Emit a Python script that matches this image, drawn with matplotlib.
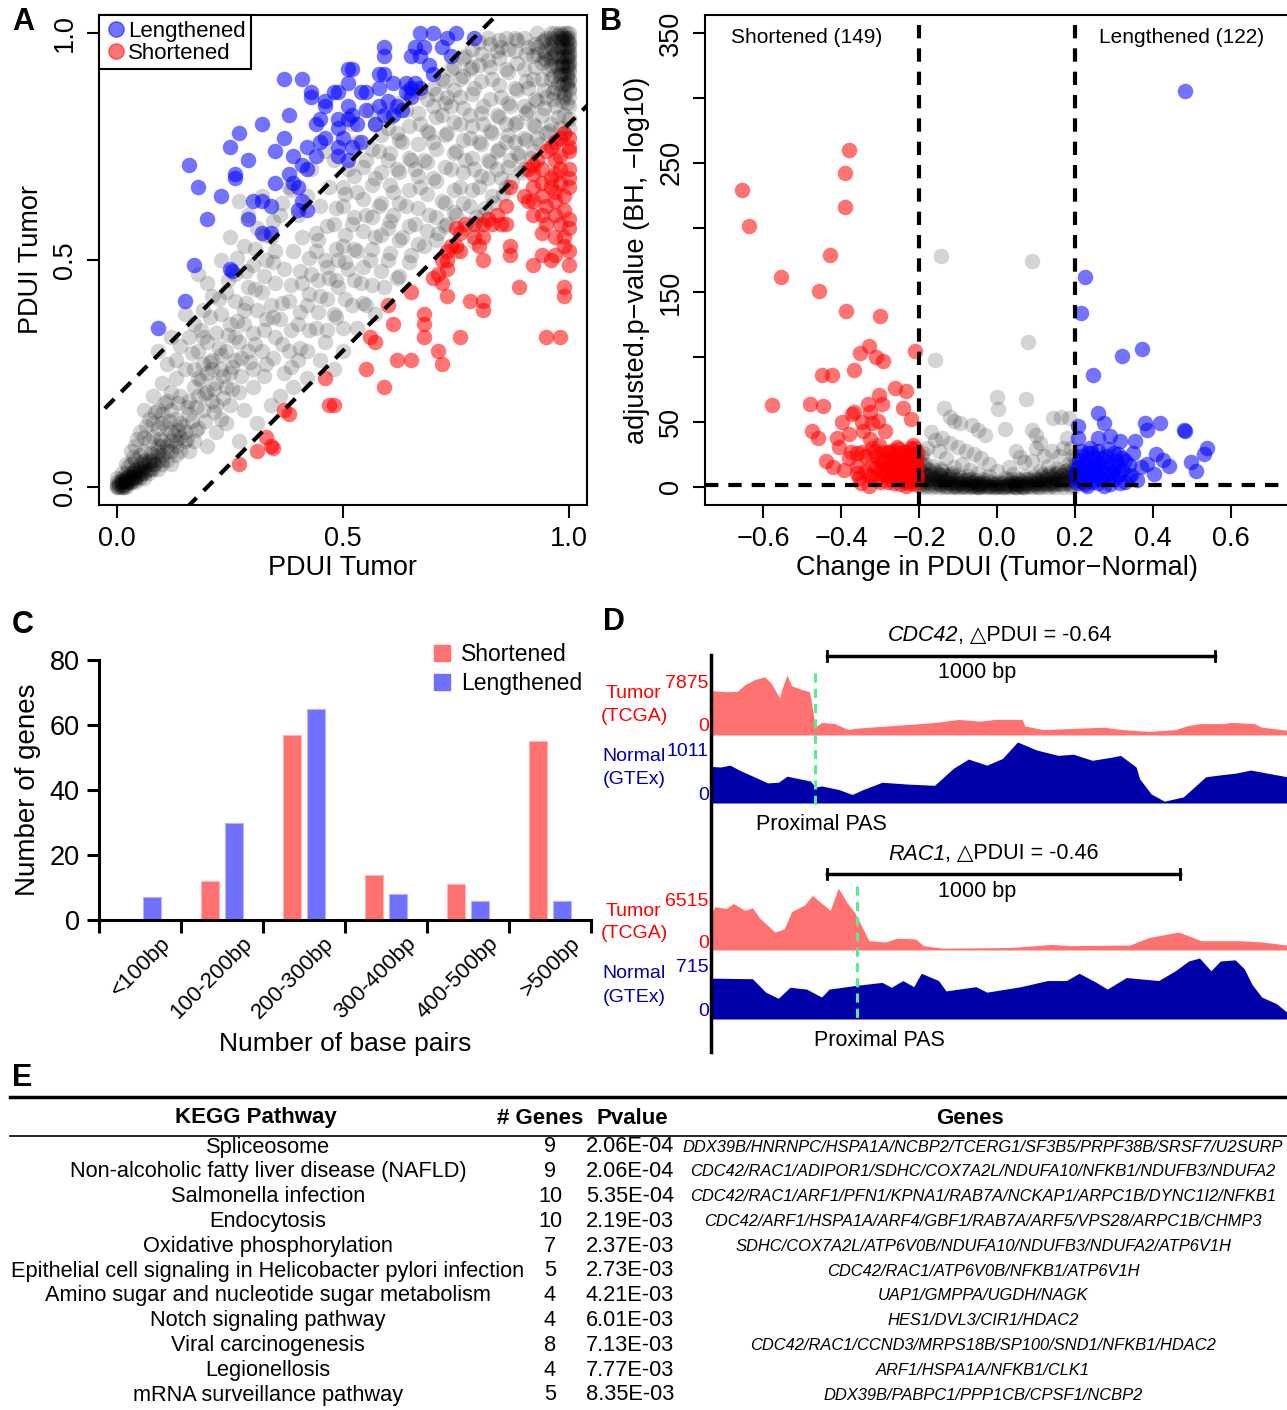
import matplotlib.pyplot as plt
from matplotlib.lines import Line2D
import numpy as np

plt.rcParams['font.family'] = ['Liberation Sans', 'DejaVu Sans']

# ---------------- data ----------------
# panel A: PDUI scatter (x, y)
lengthened_a = [(0.67, 1.00), (0.70, 1.00), (0.75, 1.00), (0.73, 0.99), (0.79, 0.99), (0.59, 0.97),
                (0.66, 0.97), (0.68, 0.97), (0.72, 0.97), (0.74, 0.95), (0.59, 0.95), (0.65, 0.95),
                (0.67, 0.95), (0.69, 0.93), (0.51, 0.92), (0.52, 0.92), (0.70, 0.91), (0.37, 0.90),
                (0.41, 0.90), (0.58, 0.91), (0.59, 0.91), (0.61, 0.89), (0.64, 0.89), (0.66, 0.89),
                (0.67, 0.88), (0.43, 0.87), (0.48, 0.87), (0.51, 0.89), (0.54, 0.87), (0.55, 0.87),
                (0.49, 0.87), (0.43, 0.86), (0.46, 0.85), (0.51, 0.84), (0.58, 0.84), (0.55, 0.83),
                (0.59, 0.82), (0.60, 0.85), (0.62, 0.84), (0.63, 0.83), (0.65, 0.86), (0.52, 0.82),
                (0.46, 0.84), (0.49, 0.81), (0.51, 0.81), (0.45, 0.81), (0.44, 0.80), (0.46, 0.77),
                (0.49, 0.79), (0.53, 0.80), (0.57, 0.80), (0.32, 0.80), (0.38, 0.82), (0.27, 0.78),
                (0.25, 0.75), (0.37, 0.77), (0.42, 0.75), (0.45, 0.76), (0.52, 0.75), (0.54, 0.76),
                (0.35, 0.74), (0.29, 0.72), (0.39, 0.73), (0.41, 0.71), (0.42, 0.70), (0.44, 0.73),
                (0.49, 0.73), (0.51, 0.72), (0.16, 0.71), (0.18, 0.66), (0.23, 0.64), (0.26, 0.68),
                (0.26, 0.69), (0.30, 0.63), (0.32, 0.63), (0.34, 0.62), (0.35, 0.67), (0.39, 0.67),
                (0.38, 0.69), (0.40, 0.66), (0.41, 0.63), (0.42, 0.61), (0.40, 0.61), (0.20, 0.59),
                (0.29, 0.59), (0.32, 0.56), (0.34, 0.56), (0.17, 0.49), (0.25, 0.48), (0.255, 0.475),
                (0.15, 0.41), (0.09, 0.35), (0.49, 0.75), (0.50, 0.77), (0.61, 0.82), (0.58, 0.88),
                (0.65, 0.88), (0.64, 0.87)]

shortened_a = [(0.99, 0.78), (1.00, 0.77), (0.98, 0.77), (1.00, 0.75), (0.97, 0.76), (0.96, 0.75),
               (1.00, 0.74), (0.98, 0.73), (0.95, 0.74), (0.93, 0.72), (0.97, 0.72), (0.92, 0.71),
               (0.91, 0.70), (0.94, 0.70), (0.98, 0.70), (1.00, 0.70), (0.92, 0.69), (0.97, 0.69),
               (0.96, 0.68), (1.00, 0.68), (0.94, 0.67), (0.98, 0.67), (0.92, 0.66), (0.96, 0.66),
               (1.00, 0.66), (0.97, 0.65), (0.94, 0.64), (0.99, 0.64), (0.97, 0.63), (0.92, 0.63),
               (0.87, 0.66), (0.90, 0.64), (0.91, 0.63), (0.95, 0.62), (0.99, 0.61), (0.97, 0.60),
               (0.94, 0.60), (0.92, 0.60), (1.00, 0.59), (0.98, 0.58), (0.95, 0.58), (1.00, 0.57),
               (0.94, 0.56), (0.97, 0.55), (0.99, 0.55), (0.86, 0.62), (0.84, 0.60), (0.82, 0.59),
               (0.83, 0.58), (0.85, 0.58), (0.86, 0.58), (0.81, 0.58), (0.79, 0.58), (0.77, 0.58),
               (0.75, 0.57), (0.76, 0.56), (0.79, 0.55), (0.81, 0.55), (0.99, 0.53), (0.97, 0.51),
               (1.00, 0.52), (0.94, 0.51), (0.96, 0.50), (1.00, 0.49), (0.92, 0.49), (0.87, 0.53),
               (0.87, 0.51), (0.81, 0.50), (0.80, 0.53), (0.76, 0.52), (0.75, 0.53), (0.74, 0.53),
               (0.73, 0.52), (0.73, 0.50), (0.72, 0.50), (0.73, 0.48), (0.71, 0.47), (0.70, 0.46),
               (0.72, 0.45), (0.65, 0.43), (0.73, 0.42), (0.78, 0.41), (0.81, 0.41), (0.81, 0.39),
               (0.89, 0.44), (0.99, 0.44), (0.99, 0.42), (0.68, 0.38), (0.68, 0.36), (0.68, 0.33),
               (0.61, 0.36), (0.60, 0.40), (0.76, 0.33), (0.71, 0.30), (0.72, 0.27), (0.95, 0.33),
               (0.98, 0.33), (0.56, 0.33), (0.57, 0.32), (0.55, 0.26), (0.62, 0.28), (0.65, 0.28),
               (0.59, 0.22), (0.46, 0.24), (0.47, 0.18), (0.48, 0.18), (0.37, 0.17), (0.38, 0.16),
               (0.33, 0.11), (0.34, 0.09), (0.345, 0.085), (0.31, 0.08), (0.27, 0.05)]

unchanged_a = [
    # dense corner near 0
    (0, 0), (0, 0.01), (0.01, 0), (0.01, 0.01), (0.01, 0.02), (0.02, 0.01), (0.02, 0.02), (0.02, 0),
    (0.03, 0.01), (0.03, 0.02), (0.03, 0.03), (0.04, 0.01), (0.04, 0.02), (0.04, 0.03), (0.05, 0.02),
    (0.05, 0.03), (0.05, 0.04), (0.06, 0.02), (0.06, 0.03), (0.06, 0.05), (0.07, 0.03), (0.07, 0.04),
    (0.07, 0.06), (0.08, 0.04), (0.08, 0.05), (0.08, 0.07), (0.09, 0.04), (0.09, 0.06), (0.1, 0.05),
    (0.1, 0.07), (0.11, 0.06), (0.12, 0.05), (0.02, 0.03), (0.03, 0.05), (0.04, 0.06), (0.05, 0.07),
    (0.06, 0.08), (0.07, 0.1), (0.08, 0.11), (0.09, 0.09), (0.1, 0.1), (0.11, 0.09), (0.12, 0.08),
    (0.13, 0.07), (0.14, 0.08), (0.13, 0.1), (0.12, 0.12), (0.11, 0.13), (0.1, 0.14), (0.09, 0.13),
    (0.08, 0.14), (0.15, 0.1), (0.16, 0.08), (0.15, 0.12), (0.14, 0.14), (0.13, 0.15), (0.12, 0.17),
    (0.1, 0.16), (0.06, 0.11), (0.05, 0.12), (0.04, 0.09), (0.01, 0.03), (0.0, 0.02), (0.02, 0.05),
    (0.03, 0.08), (0.17, 0.1), (0.18, 0.13), (0.16, 0.16), (0.07, 0.15), (0.09, 0.17), (0.11, 0.19),
    (0.005, 0.005), (0.015, 0.005), (0.01, 0.015), (0.025, 0.015), (0.035, 0.02), (0.045, 0.025),
    (0.02, 0.01), (0.03, 0.015), (0.0, 0.005), (0.015, 0.0), (0.04, 0.015), (0.055, 0.03),
    (0.065, 0.035), (0.075, 0.04), (0.085, 0.05), (0.03, 0.025), (0.01, 0.005), (0.02, 0.015),
    (0.05, 0.025), (0.06, 0.04), (0.07, 0.05), (0.09, 0.07), (0.11, 0.08), (0.1, 0.09),
    (0.005, 0.0), (0.01, 0.01), (0.02, 0.005), (0.015, 0.015), (0.025, 0.01), (0.03, 0.02),
    (0.04, 0.025), (0.05, 0.035), (0.06, 0.045), (0.035, 0.03), (0.045, 0.04), (0.025, 0.025),
    (0.0, 0.0), (0.01, 0.0), (0.005, 0.01), (0.02, 0.02), (0.03, 0.01), (0.04, 0.035), (0.07, 0.055),
    (0.08, 0.06), (0.09, 0.08), (0.1, 0.06), (0.12, 0.1), (0.13, 0.09), (0.14, 0.11), (0.06, 0.06),
    (0.05, 0.05), (0.04, 0.04),
    # lower band
    (0.19, 0.17), (0.2, 0.21), (0.18, 0.2), (0.21, 0.19), (0.22, 0.23), (0.2, 0.25), (0.23, 0.26),
    (0.24, 0.22), (0.25, 0.25), (0.19, 0.27), (0.17, 0.22), (0.16, 0.19), (0.14, 0.2), (0.13, 0.24),
    (0.15, 0.26), (0.18, 0.3), (0.2, 0.32), (0.21, 0.28), (0.22, 0.34), (0.24, 0.3), (0.26, 0.28),
    (0.27, 0.32), (0.25, 0.36), (0.23, 0.38), (0.28, 0.36), (0.29, 0.3), (0.3, 0.34), (0.31, 0.39),
    (0.26, 0.41), (0.24, 0.43), (0.29, 0.44), (0.32, 0.43), (0.33, 0.37), (0.34, 0.4), (0.35, 0.45),
    (0.12, 0.21), (0.1, 0.23), (0.08, 0.2), (0.06, 0.17), (0.11, 0.27), (0.09, 0.3), (0.14, 0.31),
    (0.16, 0.33), (0.12, 0.33), (0.17, 0.36), (0.19, 0.39), (0.15, 0.38), (0.21, 0.42), (0.2, 0.45),
    (0.18, 0.47), (0.27, 0.21), (0.25, 0.18), (0.23, 0.15), (0.3, 0.26), (0.32, 0.3), (0.22, 0.12),
    (0.28, 0.17), (0.2, 0.09), (0.24, 0.14), (0.3, 0.22), (0.33, 0.27), (0.35, 0.33), (0.36, 0.2),
    (0.31, 0.14), (0.27, 0.1), (0.34, 0.18), (0.37, 0.25), (0.39, 0.22), (0.38, 0.3), (0.4, 0.28),
    (0.36, 0.37), (0.38, 0.41), (0.4, 0.36), (0.41, 0.45), (0.37, 0.48), (0.39, 0.52), (0.33, 0.5),
    (0.3, 0.49), (0.28, 0.53), (0.26, 0.47), (0.23, 0.5), (0.25, 0.55), (0.31, 0.57), (0.34, 0.55),
    (0.36, 0.6), (0.29, 0.6), (0.27, 0.63), (0.32, 0.64), (0.35, 0.52), (0.13, 0.28), (0.22, 0.18),
    (0.17, 0.26), (0.19, 0.33), (0.18, 0.24), (0.21, 0.26), (0.23, 0.29), (0.26, 0.33), (0.28, 0.39),
    (0.125, 0.115), (0.145, 0.135), (0.165, 0.145), (0.175, 0.175), (0.195, 0.205), (0.215, 0.215),
    (0.235, 0.245), (0.255, 0.265), (0.275, 0.285), (0.155, 0.175), (0.135, 0.185), (0.105, 0.185),
    (0.085, 0.165), (0.065, 0.135), (0.045, 0.105), (0.035, 0.065), (0.025, 0.045), (0.055, 0.055),
    (0.075, 0.075), (0.095, 0.105), (0.115, 0.145), (0.135, 0.125), (0.155, 0.105), (0.175, 0.125),
    (0.195, 0.145), (0.215, 0.165), (0.235, 0.195), (0.255, 0.215), (0.275, 0.245), (0.295, 0.275),
    (0.185, 0.235), (0.205, 0.275), (0.225, 0.305), (0.245, 0.335), (0.265, 0.365), (0.285, 0.405),
    (0.305, 0.435), (0.325, 0.465), (0.345, 0.495), (0.165, 0.295), (0.185, 0.345), (0.205, 0.375),
    (0.225, 0.415), (0.245, 0.455), (0.265, 0.505), (0.285, 0.475), (0.305, 0.525), (0.325, 0.555),
    (0.345, 0.585), (0.365, 0.625), (0.385, 0.655), (0.305, 0.315), (0.325, 0.345), (0.345, 0.375),
    (0.365, 0.405), (0.385, 0.445), (0.405, 0.475), (0.425, 0.505), (0.445, 0.545), (0.465, 0.575),
    (0.485, 0.615), (0.505, 0.645), (0.525, 0.685), (0.545, 0.705), (0.565, 0.745), (0.585, 0.775),
    (0.605, 0.815), (0.625, 0.845), (0.645, 0.865), (0.325, 0.245), (0.345, 0.285), (0.365, 0.315),
    (0.385, 0.345), (0.405, 0.385), (0.425, 0.425), (0.445, 0.455), (0.465, 0.485), (0.485, 0.525),
    (0.505, 0.555), (0.525, 0.595), (0.545, 0.635), (0.565, 0.665), (0.585, 0.695), (0.605, 0.735),
    (0.625, 0.765), (0.645, 0.795), (0.665, 0.825), (0.685, 0.855), (0.705, 0.865), (0.725, 0.895),
    (0.745, 0.925), (0.765, 0.945), (0.785, 0.965), (0.385, 0.265), (0.405, 0.305), (0.425, 0.345),
    # middle band
    (0.42, 0.3), (0.44, 0.35), (0.42, 0.4), (0.45, 0.42), (0.43, 0.47), (0.46, 0.5), (0.41, 0.55),
    (0.44, 0.56), (0.47, 0.46), (0.48, 0.38), (0.46, 0.32), (0.5, 0.35), (0.49, 0.44), (0.51, 0.48),
    (0.5, 0.53), (0.48, 0.58), (0.45, 0.62), (0.42, 0.64), (0.4, 0.6), (0.38, 0.66), (0.43, 0.7),
    (0.47, 0.66), (0.5, 0.62), (0.52, 0.58), (0.53, 0.52), (0.54, 0.45), (0.55, 0.4), (0.52, 0.4),
    (0.56, 0.5), (0.57, 0.55), (0.55, 0.6), (0.53, 0.65), (0.51, 0.7), (0.48, 0.72), (0.46, 0.74),
    (0.5, 0.66), (0.58, 0.62), (0.6, 0.57), (0.6, 0.5), (0.62, 0.46), (0.59, 0.44), (0.63, 0.55),
    (0.61, 0.65), (0.57, 0.68), (0.55, 0.72), (0.53, 0.76), (0.58, 0.74), (0.62, 0.7), (0.64, 0.62),
    (0.66, 0.58), (0.65, 0.51), (0.67, 0.66), (0.63, 0.76), (0.6, 0.79), (0.57, 0.8), (0.65, 0.72),
    (0.68, 0.72), (0.7, 0.68), (0.69, 0.6), (0.71, 0.56), (0.68, 0.53), (0.72, 0.63), (0.7, 0.76),
    (0.67, 0.8), (0.64, 0.83), (0.6, 0.72), (0.56, 0.83), (0.52, 0.8), (0.7, 0.84), (0.73, 0.78),
    (0.74, 0.7), (0.76, 0.66), (0.75, 0.6), (0.73, 0.58), (0.77, 0.72), (0.76, 0.8), (0.73, 0.86),
    (0.7, 0.88), (0.67, 0.87), (0.45, 0.28), (0.5, 0.3), (0.42, 0.24), (0.48, 0.26), (0.53, 0.35),
    (0.57, 0.38), (0.44, 0.52), (0.49, 0.5), (0.61, 0.6), (0.66, 0.7), (0.69, 0.78), (0.62, 0.78),
    (0.445, 0.385), (0.465, 0.415), (0.485, 0.455), (0.505, 0.495), (0.525, 0.525), (0.545, 0.565),
    (0.565, 0.595), (0.585, 0.625), (0.605, 0.665), (0.625, 0.695), (0.645, 0.725), (0.665, 0.755),
    (0.685, 0.785), (0.705, 0.815), (0.725, 0.845), (0.745, 0.875), (0.765, 0.905), (0.785, 0.925),
    (0.805, 0.955), (0.825, 0.975), (0.845, 0.985), (0.465, 0.345), (0.485, 0.375), (0.505, 0.415),
    (0.525, 0.455), (0.545, 0.485), (0.565, 0.525), (0.585, 0.555), (0.605, 0.585), (0.625, 0.625),
    (0.645, 0.655), (0.665, 0.685), (0.685, 0.715), (0.705, 0.745), (0.725, 0.775), (0.745, 0.805),
    (0.765, 0.835), (0.785, 0.865), (0.805, 0.895), (0.825, 0.925), (0.845, 0.945), (0.865, 0.965),
    (0.885, 0.985), (0.545, 0.405), (0.565, 0.445), (0.585, 0.475), (0.605, 0.515), (0.625, 0.545),
    (0.645, 0.575), (0.665, 0.615), (0.685, 0.645), (0.705, 0.675), (0.725, 0.705), (0.745, 0.735),
    (0.765, 0.765), (0.785, 0.795), (0.805, 0.825), (0.825, 0.855), (0.845, 0.885), (0.865, 0.915),
    (0.885, 0.935), (0.905, 0.955), (0.925, 0.975), (0.945, 0.985), (0.625, 0.465), (0.645, 0.495),
    (0.665, 0.535), (0.685, 0.565), (0.705, 0.595), (0.725, 0.625), (0.745, 0.655), (0.765, 0.695),
    (0.785, 0.725), (0.805, 0.755), (0.825, 0.785), (0.845, 0.815), (0.865, 0.845), (0.885, 0.875),
    (0.905, 0.895), (0.925, 0.925), (0.945, 0.945), (0.965, 0.965), (0.985, 0.985),
    # upper right, dense
    (0.78, 0.62), (0.8, 0.66), (0.79, 0.7), (0.82, 0.72), (0.8, 0.76), (0.83, 0.78), (0.78, 0.82),
    (0.81, 0.84), (0.79, 0.88), (0.76, 0.9), (0.74, 0.92), (0.77, 0.95), (0.8, 0.93), (0.83, 0.9),
    (0.85, 0.86), (0.84, 0.82), (0.86, 0.76), (0.87, 0.72), (0.85, 0.68), (0.88, 0.8), (0.9, 0.84),
    (0.88, 0.88), (0.86, 0.92), (0.84, 0.96), (0.8, 0.98), (0.82, 0.99), (0.86, 0.99), (0.88, 0.96),
    (0.9, 0.92), (0.91, 0.88), (0.92, 0.8), (0.9, 0.77), (0.89, 0.73), (0.93, 0.85), (0.94, 0.9),
    (0.92, 0.95), (0.9, 0.99), (0.94, 0.98), (0.95, 0.94), (0.96, 0.9), (0.95, 0.86), (0.94, 0.82),
    (0.97, 0.84), (0.96, 0.8), (0.98, 0.87), (0.97, 0.93), (0.98, 0.97), (0.99, 0.99), (1.0, 1.0),
    (1.0, 0.98), (1.0, 0.96), (1.0, 0.94), (1.0, 0.92), (1.0, 0.9), (1.0, 0.88), (0.99, 0.95),
    (0.99, 0.91), (0.99, 0.86), (0.99, 0.82), (0.98, 0.79), (1.0, 0.84), (1.0, 0.81), (0.96, 0.97),
    (0.97, 1.0), (0.95, 0.99), (0.93, 0.97), (0.92, 0.9), (0.91, 0.83), (0.87, 0.84), (0.84, 0.74),
    (0.82, 0.68), (0.83, 0.64), (0.86, 0.66), (0.81, 0.6), (0.77, 0.57), (0.79, 0.54), (0.75, 0.52),
    (0.8, 0.58), (0.84, 0.7), (0.88, 0.76), (0.93, 0.77), (0.95, 0.78), (0.97, 0.76), (0.99, 0.78),
    (1.0, 0.79), (0.9, 0.7), (0.92, 0.74), (0.86, 0.8), (0.81, 0.8), (0.78, 0.77), (0.75, 0.74),
    (0.72, 0.82), (0.74, 0.84), (0.76, 0.86), (0.72, 0.9), (0.78, 0.92), (0.82, 0.94), (0.85, 0.97),
    (0.88, 0.99), (0.91, 0.97), (0.93, 1.0), (0.96, 1.0), (0.98, 1.0), (0.99, 1.0), (1.0, 0.99),
    (0.995, 0.97), (0.995, 0.93), (0.995, 0.89), (0.985, 0.95), (0.985, 0.91), (0.985, 0.85),
    (0.975, 0.89), (0.975, 0.97), (0.965, 0.95), (0.955, 0.92), (0.945, 0.96), (0.965, 0.87),
    (1.0, 0.86), (1.0, 0.95), (1.0, 0.97), (0.99, 0.97), (0.99, 0.93), (0.98, 0.99), (0.97, 0.98),
    (0.96, 0.99), (0.995, 0.99), (0.995, 0.95), (0.995, 0.91), (0.985, 0.98), (0.985, 0.93),
    (0.975, 0.95), (0.99, 0.89), (1.0, 0.93), (0.98, 0.91), (0.97, 0.88), (0.96, 0.93),
    (0.705, 0.545), (0.725, 0.575), (0.745, 0.605), (0.765, 0.625), (0.785, 0.655), (0.805, 0.685),
    (0.825, 0.715), (0.845, 0.745), (0.865, 0.775), (0.885, 0.805), (0.905, 0.825), (0.925, 0.855),
    (0.945, 0.875), (0.965, 0.905), (0.985, 0.935), (0.865, 0.705), (0.885, 0.735), (0.905, 0.765),
    (0.925, 0.795), (0.945, 0.835), (0.965, 0.855), (0.985, 0.885), (0.995, 0.845), (0.975, 0.815),
    (0.955, 0.785), (0.935, 0.755), (0.915, 0.725), (0.895, 0.695), (0.875, 0.675), (0.855, 0.645),
    (0.835, 0.625), (0.815, 0.615), (0.795, 0.595), (0.99, 0.99), (0.995, 0.985), (1.0, 0.975),
    (0.995, 0.965), (1.0, 0.955), (0.995, 0.945), (1.0, 0.935), (0.995, 0.925), (1.0, 0.915),
    (0.995, 0.905), (1.0, 0.895), (0.995, 0.885), (1.0, 0.875), (0.99, 0.865), (0.985, 0.965),
    (0.98, 0.945), (0.985, 0.925), (0.98, 0.905), (0.975, 0.925), (0.97, 0.955), (0.965, 0.985),
    (0.955, 0.975), (0.96, 0.945), (0.95, 0.955), (0.94, 0.935), (0.93, 0.955), (0.985, 0.995),
    (0.975, 0.995), (0.995, 1.0),
]

# panel B: volcano (change in PDUI, -log10 adjusted p)
shortened_b = [(-0.655, 229), (-0.636, 201), (-0.554, 162), (-0.577, 63), (-0.429, 179), (-0.458, 151),
               (-0.388, 136), (-0.379, 260), (-0.39, 242), (-0.39, 216), (-0.30, 132), (-0.329, 109),
               (-0.351, 103), (-0.311, 100), (-0.294, 97), (-0.367, 90), (-0.45, 86), (-0.424, 86),
               (-0.21, 105), (-0.263, 76), (-0.235, 74), (-0.303, 71), (-0.331, 64), (-0.295, 64),
               (-0.48, 64), (-0.446, 62), (-0.241, 61), (-0.367, 58), (-0.373, 56), (-0.325, 58),
               (-0.22, 52), (-0.399, 50), (-0.348, 50), (-0.32, 49), (-0.305, 51), (-0.475, 43),
               (-0.288, 43), (-0.379, 41), (-0.345, 43), (-0.412, 38), (-0.461, 38), (-0.325, 37),
               (-0.407, 31), (-0.348, 27), (-0.314, 28), (-0.376, 27), (-0.438, 20), (-0.421, 15),
               (-0.393, 13), (-0.359, 11), (-0.354, 7), (-0.303, 32), (-0.28, 27), (-0.258, 31),
               (-0.235, 27), (-0.215, 32), (-0.207, 22), (-0.29, 20), (-0.28, 15), (-0.27, 22),
               (-0.26, 10), (-0.25, 18), (-0.24, 5), (-0.23, 12), (-0.22, 25), (-0.21, 8), (-0.21, 16),
               (-0.22, 3), (-0.23, 20), (-0.24, 14), (-0.25, 2), (-0.26, 24), (-0.27, 8), (-0.28, 4),
               (-0.30, 12), (-0.31, 6), (-0.32, 18), (-0.33, 9), (-0.34, 24), (-0.22, 10), (-0.21, 2),
               (-0.23, 7), (-0.24, 27), (-0.25, 9), (-0.26, 17), (-0.27, 13), (-0.28, 26), (-0.29, 9),
               (-0.30, 4), (-0.21, 22), (-0.22, 18), (-0.215, 12), (-0.205, 5), (-0.235, 1),
               (-0.245, 21), (-0.255, 29), (-0.265, 3), (-0.275, 18), (-0.285, 12), (-0.295, 27),
               (-0.32, 30), (-0.36, 16), (-0.38, 22), (-0.35, 3), (-0.33, 1), (-0.31, 24),
               (-0.205, 10), (-0.205, 18), (-0.205, 26), (-0.21, 12), (-0.215, 6), (-0.215, 20),
               (-0.22, 14), (-0.225, 8), (-0.225, 22), (-0.23, 16), (-0.235, 4), (-0.235, 10),
               (-0.24, 20), (-0.245, 12), (-0.25, 6), (-0.25, 26), (-0.255, 16), (-0.26, 20),
               (-0.265, 12), (-0.27, 28), (-0.275, 6), (-0.28, 10), (-0.285, 22), (-0.29, 14),
               (-0.30, 20), (-0.31, 15), (-0.32, 8), (-0.34, 12), (-0.36, 26), (-0.22, 30), (-0.21, 30)]

lengthened_b = [(0.482, 305), (0.226, 162), (0.217, 134), (0.322, 101), (0.372, 106), (0.247, 86),
                (0.26, 57), (0.276, 49), (0.209, 47), (0.381, 49), (0.418, 49), (0.386, 44),
                (0.48, 44), (0.482, 43), (0.26, 38), (0.29, 39), (0.355, 35), (0.209, 38), (0.315, 35),
                (0.539, 30), (0.531, 25), (0.499, 19), (0.511, 12), (0.443, 16), (0.426, 21),
                (0.409, 25), (0.386, 18), (0.403, 10), (0.37, 15), (0.345, 9), (0.21, 5), (0.22, 12),
                (0.23, 20), (0.24, 8), (0.25, 15), (0.26, 3), (0.27, 22), (0.28, 10), (0.29, 17),
                (0.30, 6), (0.31, 25), (0.32, 13), (0.33, 4), (0.215, 28), (0.225, 2), (0.235, 16),
                (0.245, 26), (0.255, 9), (0.265, 18), (0.275, 1), (0.285, 29), (0.295, 11),
                (0.305, 20), (0.315, 3), (0.205, 14), (0.21, 21), (0.22, 7), (0.23, 1), (0.24, 30),
                (0.25, 23), (0.26, 12), (0.27, 6), (0.28, 19), (0.29, 2), (0.30, 14), (0.31, 9),
                (0.32, 22), (0.34, 17), (0.35, 26), (0.36, 5), (0.2, 10), (0.205, 3),
                (0.205, 8), (0.21, 16), (0.215, 24), (0.22, 4), (0.225, 18), (0.23, 10), (0.235, 26),
                (0.24, 14), (0.245, 4), (0.25, 20), (0.255, 12), (0.26, 28), (0.265, 6), (0.27, 14),
                (0.28, 24), (0.29, 8), (0.30, 26), (0.31, 16), (0.33, 20), (0.34, 8)]

unchanged_b = [
    (-0.2, 3), (-0.2, 8), (-0.2, 14), (-0.2, 20), (-0.19, 2), (-0.19, 6), (-0.19, 11), (-0.19, 17),
    (-0.18, 1), (-0.18, 5), (-0.18, 9), (-0.18, 14), (-0.17, 2), (-0.17, 6), (-0.17, 11), (-0.16, 1),
    (-0.16, 4), (-0.16, 8), (-0.16, 13), (-0.15, 2), (-0.15, 5), (-0.15, 9), (-0.14, 1), (-0.14, 4),
    (-0.14, 7), (-0.14, 12), (-0.13, 1), (-0.13, 3), (-0.13, 6), (-0.12, 0), (-0.12, 3), (-0.12, 6),
    (-0.12, 10), (-0.11, 1), (-0.11, 4), (-0.1, 0), (-0.1, 2), (-0.1, 5), (-0.1, 9), (-0.09, 1),
    (-0.09, 3), (-0.08, 0), (-0.08, 2), (-0.08, 5), (-0.07, 1), (-0.07, 3), (-0.06, 0), (-0.06, 2),
    (-0.06, 4), (-0.05, 0), (-0.05, 2), (-0.04, 1), (-0.04, 3), (-0.03, 0), (-0.03, 2), (-0.02, 0),
    (-0.02, 1), (-0.01, 0), (-0.01, 2), (0, 0), (0, 1), (0, 3), (0.01, 0), (0.01, 2), (0.02, 0),
    (0.02, 1), (0.03, 0), (0.03, 2), (0.04, 1), (0.04, 3), (0.05, 0), (0.05, 2), (0.06, 1), (0.06, 3),
    (0.06, 5), (0.07, 0), (0.07, 2), (0.08, 1), (0.08, 3), (0.08, 6), (0.09, 2), (0.09, 4), (0.1, 1),
    (0.1, 3), (0.1, 6), (0.11, 2), (0.11, 5), (0.12, 1), (0.12, 4), (0.12, 7), (0.13, 2), (0.13, 5),
    (0.13, 9), (0.14, 1), (0.14, 4), (0.14, 8), (0.15, 2), (0.15, 6), (0.15, 10), (0.16, 3), (0.16, 7),
    (0.16, 12), (0.17, 2), (0.17, 5), (0.17, 9), (0.18, 3), (0.18, 7), (0.18, 13), (0.19, 2), (0.19, 6),
    (0.19, 10), (0.19, 16), (0.2, 4), (0.2, 9), (0.2, 15), (0.2, 22), (-0.035, 4), (0.035, 4),
    (-0.075, 6), (0.075, 6), (-0.115, 8), (0.115, 8), (-0.155, 11), (0.155, 11), (-0.185, 18),
    (0.185, 18), (-0.195, 24), (0.195, 24), (-0.065, 1), (0.065, 1), (-0.025, 1), (0.025, 1),
    (-0.145, 2), (0.145, 2), (-0.175, 4), (0.175, 4), (-0.105, 3), (0.105, 3), (-0.045, 2), (0.045, 2),
    (-0.195, 4), (-0.185, 9), (-0.175, 13), (-0.165, 7), (-0.155, 3), (-0.145, 9), (-0.135, 5),
    (-0.125, 8), (-0.115, 2), (-0.105, 6), (-0.095, 3), (-0.085, 5), (-0.075, 2), (-0.065, 4),
    (-0.055, 1), (-0.045, 3), (-0.035, 1), (-0.025, 3), (-0.015, 1), (-0.005, 2), (0.005, 1),
    (0.015, 3), (0.025, 2), (0.035, 1), (0.045, 4), (0.055, 2), (0.065, 4), (0.075, 3), (0.085, 5),
    (0.095, 2), (0.105, 5), (0.115, 3), (0.125, 6), (0.135, 3), (0.145, 7), (0.155, 5), (0.165, 9),
    (0.175, 7), (0.185, 11), (0.195, 8), (-0.195, 12), (-0.185, 3), (-0.175, 9), (-0.165, 16),
    (-0.155, 6), (-0.145, 14), (-0.135, 10), (-0.125, 4), (-0.115, 11), (-0.105, 1), (-0.095, 7),
    (-0.085, 1), (-0.075, 8), (-0.065, 6), (-0.055, 5), (-0.045, 0), (-0.035, 6), (-0.025, 5),
    (-0.015, 4), (-0.005, 0), (0.005, 4), (0.015, 0), (0.025, 5), (0.035, 6), (0.045, 0), (0.055, 6),
    (0.065, 0), (0.075, 8), (0.085, 1), (0.095, 8), (0.105, 0), (0.115, 10), (0.125, 2), (0.135, 11),
    (0.145, 4), (0.155, 14), (0.165, 2), (0.175, 12), (0.185, 5), (0.195, 13), (-0.2, 1), (0.2, 1),
    (-0.19, 0), (0.19, 0), (-0.17, 0), (0.17, 0), (-0.15, 0), (0.15, 0), (-0.13, 0), (0.13, 0),
    (-0.11, 0), (0.11, 0), (-0.09, 0), (0.09, 0), (-0.07, 0), (0.07, 0), (-0.05, 0), (0.05, 0),
    (-0.145, 178), (0.09, 174), (-0.16, 98), (0.08, 112), (0.0, 69), (0.003, 60), (0.075, 68),
    (-0.135, 61), (-0.12, 54), (-0.11, 51), (-0.095, 49), (-0.065, 48), (-0.05, 44), (-0.03, 40),
    (0.02, 45), (0.09, 44), (0.1, 40), (0.11, 34), (0.1, 30), (0.145, 53), (0.165, 54), (0.185, 53),
    (0.18, 38), (0.17, 30), (-0.17, 42), (-0.16, 36), (-0.14, 38), (-0.12, 34), (-0.1, 31), (-0.08, 28),
    (-0.06, 25), (-0.04, 22), (-0.02, 18), (0.05, 28), (0.06, 23), (0.07, 19), (0.12, 24), (0.14, 28),
    (0.16, 24), (-0.18, 30), (-0.19, 26), (0.19, 30), (-0.15, 28), (-0.13, 22), (-0.09, 18), (0.03, 15),
    (0.09, 20), (0.13, 16), (-0.07, 13), (-0.05, 11), (0.0, 12), (0.04, 10), (0.11, 12), (-0.11, 15),
    (-0.02, 8), (0.02, 7),
]

# panel C: distance between proximal and distal PAS
bp_bins = ['<100bp', '100-200bp', '200-300bp', '300-400bp', '400-500bp', '>500bp']
n_shortened = [0, 12, 57, 14, 11, 55]
n_lengthened = [7, 30, 65, 8, 6, 6]

# panel D: coverage tracks (relative position along 3'UTR, coverage as fraction of track range)
cdc42_pos_tumor = [0, 0.03, 0.046, 0.059, 0.075, 0.093, 0.104, 0.119, 0.124, 0.132, 0.14, 0.157,
                   0.171, 0.175, 0.179, 0.183, 0.192, 0.215, 0.238, 0.248, 0.29, 0.35, 0.39, 0.43,
                   0.466, 0.493, 0.54, 0.545, 0.577, 0.63, 0.682, 0.714, 0.76, 0.806, 0.825, 0.848,
                   0.89, 0.903, 0.943, 0.956, 1.0]
cdc42_tumor = [0.74, 0.72, 0.73, 0.84, 0.92, 0.97, 0.87, 0.62, 0.79, 1.0, 0.82, 0.76, 0.72, 0.51,
               0.26, 0.15, 0.21, 0.19, 0.09, 0.11, 0.14, 0.18, 0.21, 0.26, 0.23, 0.26, 0.26, 0.15,
               0.09, 0.11, 0.13, 0.09, 0.06, 0.09, 0.15, 0.19, 0.19, 0.21, 0.19, 0.13, 0.08]
cdc42_pos_normal = [0, 0.016, 0.033, 0.049, 0.075, 0.098, 0.117, 0.132, 0.157, 0.173, 0.181, 0.192,
                    0.222, 0.245, 0.264, 0.297, 0.342, 0.388, 0.421, 0.447, 0.479, 0.506, 0.532, 0.565,
                    0.603, 0.629, 0.662, 0.695, 0.711, 0.738, 0.744, 0.764, 0.787, 0.82, 0.859, 0.892,
                    0.911, 0.937, 1.0]
cdc42_normal = [0.60, 0.59, 0.62, 0.54, 0.43, 0.33, 0.34, 0.44, 0.39, 0.36, 0.26, 0.28, 0.22, 0.14,
                0.22, 0.34, 0.31, 0.29, 0.57, 0.72, 0.62, 0.73, 1.0, 0.87, 0.78, 0.80, 0.70, 0.75,
                0.78, 0.59, 0.40, 0.15, 0.03, 0.10, 0.43, 0.47, 0.49, 0.54, 0.43]
rac1_pos_tumor = [0, 0.007, 0.026, 0.039, 0.059, 0.072, 0.085, 0.111, 0.127, 0.14, 0.163, 0.176,
                  0.207, 0.207, 0.221, 0.235, 0.248, 0.254, 0.274, 0.303, 0.323, 0.355, 0.369, 0.401,
                  0.519, 0.564, 0.59, 0.623, 0.727, 0.76, 0.812, 0.851, 0.916, 0.956, 1.0]
rac1_tumor = [0.59, 0.70, 0.67, 0.75, 0.64, 0.68, 0.51, 0.29, 0.34, 0.62, 0.73, 0.88, 0.64, 0.64,
              1.0, 0.78, 0.62, 0.53, 0.15, 0.13, 0.19, 0.18, 0.07, 0.03, 0.04, 0.07, 0.09, 0.07,
              0.08, 0.20, 0.29, 0.15, 0.15, 0.13, 0.08]
rac1_pos_normal = [0, 0.072, 0.095, 0.117, 0.137, 0.166, 0.192, 0.205, 0.251, 0.297, 0.313, 0.333,
                   0.352, 0.365, 0.395, 0.408, 0.46, 0.479, 0.538, 0.584, 0.617, 0.639, 0.669, 0.688,
                   0.721, 0.777, 0.806, 0.829, 0.848, 0.868, 0.884, 0.91, 0.926, 0.939, 0.956, 0.982,
                   1.0]
rac1_normal = [0.67, 0.66, 0.44, 0.34, 0.52, 0.49, 0.36, 0.49, 0.55, 0.60, 0.52, 0.63, 0.53, 0.75,
               0.63, 0.46, 0.53, 0.44, 0.53, 0.63, 0.63, 0.75, 0.60, 0.49, 0.68, 0.63, 0.79, 0.95,
               1.0, 0.79, 0.95, 0.97, 0.82, 0.57, 0.36, 0.25, 0.11]
pas_cdc42 = 0.18
pas_rac1 = 0.254

# panel E: KEGG enrichment
pathways = ['Spliceosome', 'Non-alcoholic fatty liver disease (NAFLD)', 'Salmonella infection',
            'Endocytosis', 'Oxidative phosphorylation',
            'Epithelial cell signaling in Helicobacter pylori infection',
            'Amino sugar and nucleotide sugar metabolism', 'Notch signaling pathway',
            'Viral carcinogenesis', 'Legionellosis', 'mRNA surveillance pathway']
n_genes = [9, 9, 10, 10, 7, 5, 4, 4, 8, 4, 5]
pvalues = ['2.06E-04', '2.06E-04', '5.35E-04', '2.19E-03', '2.37E-03', '2.73E-03', '4.21E-03',
           '6.01E-03', '7.13E-03', '7.77E-03', '8.35E-03']
gene_lists = ['DDX39B/HNRNPC/HSPA1A/NCBP2/TCERG1/SF3B5/PRPF38B/SRSF7/U2SURP',
              'CDC42/RAC1/ADIPOR1/SDHC/COX7A2L/NDUFA10/NFKB1/NDUFB3/NDUFA2',
              'CDC42/RAC1/ARF1/PFN1/KPNA1/RAB7A/NCKAP1/ARPC1B/DYNC1I2/NFKB1',
              'CDC42/ARF1/HSPA1A/ARF4/GBF1/RAB7A/ARF5/VPS28/ARPC1B/CHMP3',
              'SDHC/COX7A2L/ATP6V0B/NDUFA10/NDUFB3/NDUFA2/ATP6V1H',
              'CDC42/RAC1/ATP6V0B/NFKB1/ATP6V1H',
              'UAP1/GMPPA/UGDH/NAGK',
              'HES1/DVL3/CIR1/HDAC2',
              'CDC42/RAC1/CCND3/MRPS18B/SP100/SND1/NFKB1/HDAC2',
              'ARF1/HSPA1A/NFKB1/CLK1',
              'DDX39B/PABPC1/PPP1CB/CPSF1/NCBP2']

# ---------------- figure ----------------
W, H = 1287, 1410
fig = plt.figure(figsize=(W / 100, H / 100), dpi=100)


def px_axes(l, t, r, b):
    return fig.add_axes([l / W, 1 - b / H, (r - l) / W, (b - t) / H])


dash = (0, (3.2, 2.4))
pt_size = 125

# ---- A ----
ax = px_axes(99, 15, 587, 505)
g = np.array(unchanged_a)
ax.scatter(g[:, 0], g[:, 1], s=pt_size, c='black', alpha=0.17, lw=0)
b = np.array(lengthened_a)
ax.scatter(b[:, 0], b[:, 1], s=pt_size, c='blue', alpha=0.55, lw=0)
r = np.array(shortened_a)
ax.scatter(r[:, 0], r[:, 1], s=pt_size, c='red', alpha=0.55, lw=0)
xs = np.array([-0.1, 1.1])
ax.plot(xs, xs + 0.2, color='black', ls=dash, lw=3)
ax.plot(xs, xs - 0.2, color='black', ls=dash, lw=3)
ax.set_xlim(-0.04, 1.04)
ax.set_ylim(-0.04, 1.04)
ax.set_xticks([0, 0.5, 1.0], ['0.0', '0.5', '1.0'])
ax.set_yticks([0, 0.5, 1.0], ['0.0', '0.5', '1.0'], rotation=90, va='center')
ax.tick_params(labelsize=19.5, length=9, width=1.5, pad=6)
ax.set_xlabel('PDUI Tumor', fontsize=19.5, labelpad=2)
ax.set_ylabel('PDUI Tumor', fontsize=19.5, labelpad=6)
for s in ax.spines.values():
    s.set_linewidth(1.5)
handles = [Line2D([], [], marker='o', ls='', color='blue', alpha=0.55, ms=11, label='Lengthened'),
           Line2D([], [], marker='o', ls='', color='red', alpha=0.55, ms=11, label='Shortened')]
leg = ax.legend(handles=handles, loc='upper left', borderaxespad=0, fancybox=False,
                edgecolor='black', fontsize=16, handletextpad=0.05, borderpad=0.25,
                labelspacing=0.05, handlelength=1.0, framealpha=1)
leg.get_frame().set_linewidth(1.5)

# ---- B ----
ax = px_axes(705, 15, 1289, 505)
g = np.array(unchanged_b)
ax.scatter(g[:, 0], g[:, 1], s=pt_size, c='black', alpha=0.17, lw=0)
r = np.array(shortened_b)
ax.scatter(r[:, 0], r[:, 1], s=pt_size, c='red', alpha=0.55, lw=0)
b = np.array(lengthened_b)
ax.scatter(b[:, 0], b[:, 1], s=pt_size, c='blue', alpha=0.55, lw=0)
ax.axvline(-0.2, color='black', ls=dash, lw=3)
ax.axvline(0.2, color='black', ls=dash, lw=3)
ax.axhline(-np.log10(0.05), color='black', ls=dash, lw=3)
ax.set_xlim(-0.75, 0.75)
ax.set_ylim(-14, 364)
ax.set_xticks([-0.6, -0.4, -0.2, 0, 0.2, 0.4, 0.6],
              ['\u22120.6', '\u22120.4', '\u22120.2', '0.0', '0.2', '0.4', '0.6'])
ax.set_yticks(range(0, 351, 50), ['0', '50', '', '150', '', '250', '', '350'],
              rotation=90, va='center')
ax.tick_params(labelsize=19.5, length=9, width=1.5, pad=6)
ax.set_xlabel('Change in PDUI (Tumor\u2212Normal)', fontsize=19.5, labelpad=2)
ax.set_ylabel('adjusted.p\u2212value (BH, \u2212log10)', fontsize=19.5, labelpad=6)
for s in ax.spines.values():
    s.set_linewidth(1.5)
ax.text(-0.49, 347, 'Shortened (%d)' % 149, ha='center', va='center', fontsize=15)
ax.text(0.473, 347, 'Lengthened (%d)' % 122, ha='center', va='center', fontsize=15)

# ---- C ----
ax = px_axes(99, 660, 591, 920)
x = np.arange(len(bp_bins))
ax.bar(x - 0.145, n_shortened, width=0.22, color='#FF7070', edgecolor='#FFB5B5', lw=0.8)
ax.bar(x + 0.145, n_lengthened, width=0.22, color='#7070FF', edgecolor='#B5B5FF', lw=0.8)
ax.set_xlim(-0.5, 5.5)
ax.set_ylim(0, 80)
ax.spines['top'].set_visible(False)
ax.spines['right'].set_visible(False)
ax.spines['left'].set_linewidth(2.2)
ax.spines['bottom'].set_linewidth(2.2)
ax.set_xticks(np.arange(-0.5, 6, 1), [''] * 7)
ax.set_yticks(range(0, 81, 20))
ax.tick_params(labelsize=19.5, length=9, width=2.2, pad=5)
for i, lab in enumerate(bp_bins):
    ax.text(i + 0.24, -4, lab, rotation=45, ha='right', va='top', rotation_mode='anchor',
            fontsize=16)
ax.set_xlabel('Number of base pairs', fontsize=19, labelpad=67)
ax.set_ylabel('Number of genes', fontsize=20, labelpad=6)
handles = [Line2D([], [], marker='s', ls='', color='#FF7070', ms=11, label='Shortened'),
           Line2D([], [], marker='s', ls='', color='#7070FF', ms=11, label='Lengthened')]
ax.legend(handles=handles, loc='upper right', bbox_to_anchor=(1.0, 1.1), frameon=False,
          fontsize=16.5, handletextpad=0.3, labelspacing=0.25, handlelength=1.0, borderaxespad=0)

# ---- D ----
tumor_fill = '#FF7272'
normal_fill = '#0000AA'
tracks = [(cdc42_pos_tumor, cdc42_tumor, 675, 735, tumor_fill),
          (cdc42_pos_normal, cdc42_normal, 742, 803, normal_fill),
          (rac1_pos_tumor, rac1_tumor, 888, 950, tumor_fill),
          (rac1_pos_normal, rac1_normal, 958, 1019, normal_fill)]
for pos, cov, top, base, col in tracks:
    ta = px_axes(711, top, 1287, base)
    ta.fill_between(pos, cov, color=col, lw=0)
    ta.set_xlim(0, 1)
    ta.set_ylim(0, 1)
    ta.axis('off')

ad = px_axes(0, 600, 1287, 1060)
ad.set_xlim(0, 1287)
ad.set_ylim(1060, 600)
ad.axis('off')


def tx(t):
    return 711 + 576 * t


ad.plot([711, 711], [655, 1052], color='black', lw=2.5)
ad.plot([tx(pas_cdc42)] * 2, [673, 808], color='#55EE88', lw=2.2, ls=(0, (3, 2)))
ad.plot([tx(pas_rac1)] * 2, [886, 1022], color='#55EE88', lw=2.2, ls=(0, (3, 2)))
ad.text(tx(0.191), 825, 'Proximal PAS', ha='center', va='center', fontsize=15.5)
ad.text(tx(0.293), 1040, 'Proximal PAS', ha='center', va='center', fontsize=15.5)

for gene, dpdui, ty, bar_end, by in [('CDC42', -0.64, 636, 1215, 656), ('RAC1', -0.46, 854, 1180, 874)]:
    t1 = ad.text(888, ty, gene, style='italic', ha='left', va='center', fontsize=15.5)
    ad.annotate(', \u25b3PDUI = %.2f' % dpdui, xy=(1, 0.5), xycoords=t1, ha='left', va='center',
                fontsize=15.5)
    ad.plot([827, bar_end], [by, by], color='black', lw=2.5)
    ad.plot([827, 827], [by - 5, by + 5], color='black', lw=2)
    ad.plot([bar_end, bar_end], [by - 5, by + 5], color='black', lw=2)
    ad.text(977, by + 17, '1000 bp', ha='center', va='center', fontsize=15.5)

for tmax, nmax, y0 in [(7875, 1011, 0), (6515, 715, 217)]:
    ad.text(709, 684 + y0, str(tmax), ha='right', va='center', fontsize=14, color='red')
    ad.text(709, 727 + y0, '0', ha='right', va='center', fontsize=14, color='red')
    ad.text(634, 694 + y0, 'Tumor', ha='center', va='center', fontsize=14, color='red')
    ad.text(634, 717 + y0, '(TCGA)', ha='center', va='center', fontsize=14, color='red')
    ad.text(709, 752 + y0 - (0 if y0 == 0 else 2), str(nmax), ha='right', va='center',
            fontsize=14, color='#0000AA')
    ad.text(709, 795 + y0, '0', ha='right', va='center', fontsize=14, color='#0000AA')
    ad.text(634, 757 + y0, 'Normal', ha='center', va='center', fontsize=14, color='#0000AA')
    ad.text(634, 780 + y0, '(GTEx)', ha='center', va='center', fontsize=14, color='#0000AA')

# ---- E ----
ae = px_axes(0, 1060, 1287, 1410)
ae.set_xlim(0, 1287)
ae.set_ylim(1410, 1060)
ae.axis('off')
ae.plot([10, 1290], [1097, 1097], color='black', lw=2.5)
ae.plot([10, 1290], [1136, 1136], color='black', lw=1.2)
hdr = dict(ha='center', va='center', fontsize=16, fontweight='bold')
ae.text(256, 1118, 'KEGG Pathway', **hdr)
ae.text(540, 1118, '# Genes', **hdr)
ae.text(632, 1118, 'Pvalue', **hdr)
ae.text(970, 1118, 'Genes', **hdr)
for i in range(len(pathways)):
    y = 1147 + i * 24.8
    ae.text(268, y, pathways[i], ha='center', va='center', fontsize=15.7)
    ae.text(550, y, str(n_genes[i]), ha='center', va='center', fontsize=15.7)
    ae.text(630, y, pvalues[i], ha='center', va='center', fontsize=15.7)
    ae.text(983, y, gene_lists[i], ha='center', va='center', fontsize=11.9, style='italic')

# panel letters
for lab, lx, ly in [('A', 12, 22), ('B', 600, 22), ('C', 12, 625), ('D', 603, 622), ('E', 12, 1078)]:
    fig.text(lx / W, 1 - ly / H, lab, fontsize=22, fontweight='bold', ha='left', va='center')

fig.savefig('out.png', dpi=100)
